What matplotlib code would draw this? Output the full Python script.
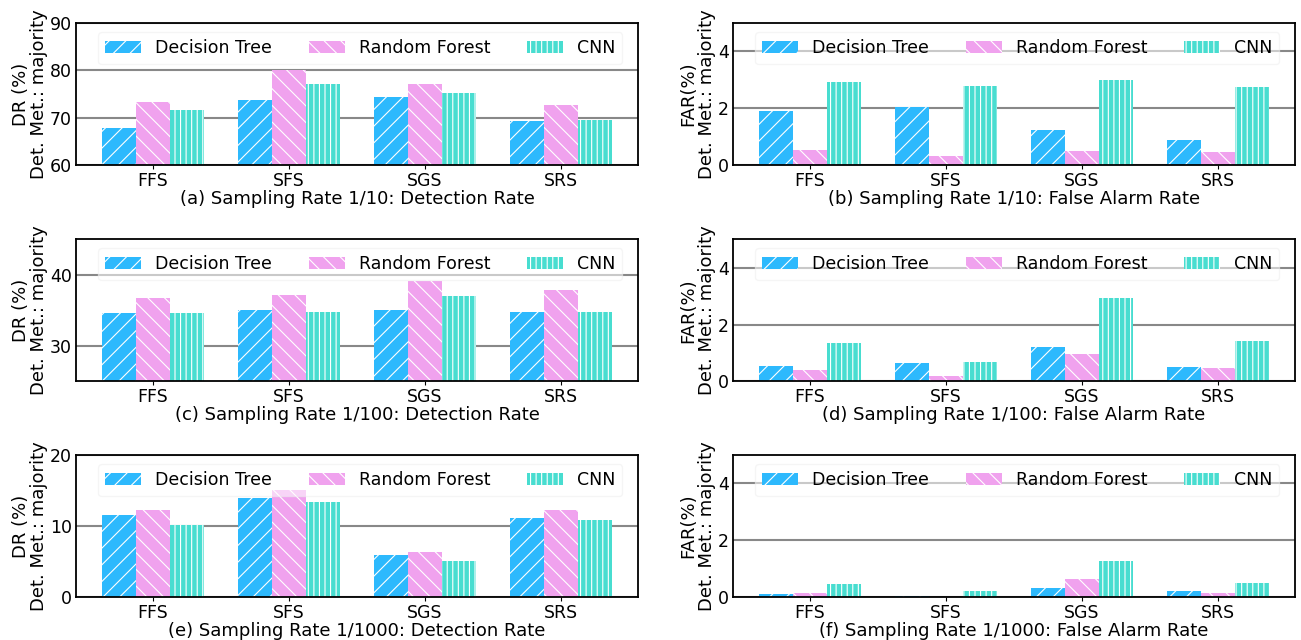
import numpy as np
import matplotlib
matplotlib.use("Agg")
import matplotlib.pyplot as plt

methods = ["FFS", "SFS", "SGS", "SRS"]
models = ["Decision Tree", "Random Forest", "CNN"]

# detection rate / false alarm rate (%) per sampling rate, rows = model
dr_10 = [[67.9, 73.8, 74.4, 69.4],
         [73.4, 80.1, 77.2, 72.7],
         [71.7, 77.2, 75.3, 69.6]]
far_10 = [[1.91, 2.04, 1.24, 0.88],
          [0.53, 0.33, 0.50, 0.46],
          [2.91, 2.80, 3.01, 2.76]]
dr_100 = [[34.6, 35.1, 35.1, 34.8],
          [36.8, 37.1, 39.1, 37.9],
          [34.6, 34.8, 37.0, 34.8]]
far_100 = [[0.54, 0.66, 1.21, 0.50],
           [0.40, 0.20, 0.96, 0.48],
           [1.36, 0.68, 2.93, 1.42]]
dr_1000 = [[11.5, 13.9, 5.9, 11.2],
           [12.2, 15.1, 6.4, 12.2],
           [10.2, 13.4, 5.1, 10.8]]
far_1000 = [[0.12, 0.05, 0.32, 0.20],
            [0.15, 0.01, 0.65, 0.14],
            [0.46, 0.20, 1.27, 0.48]]

colors = ["#2DB9FD", "#F0A2EE", "#48DDD0"]
hatches = ["//", "\\\\", "|||"]

panels = [
    (dr_10, "DR (%)", (60, 90), [60, 70, 80, 90], "(a) Sampling Rate 1/10: Detection Rate"),
    (far_10, "FAR(%)", (0, 5), [0, 2, 4], "(b) Sampling Rate 1/10: False Alarm Rate"),
    (dr_100, "DR (%)", (25, 45), [30, 40], "(c) Sampling Rate 1/100: Detection Rate"),
    (far_100, "FAR(%)", (0, 5), [0, 2, 4], "(d) Sampling Rate 1/100: False Alarm Rate"),
    (dr_1000, "DR (%)", (0, 20), [0, 10, 20], "(e) Sampling Rate 1/1000: Detection Rate"),
    (far_1000, "FAR(%)", (0, 5), [0, 2, 4], "(f) Sampling Rate 1/1000: False Alarm Rate"),
]

plt.rcParams["hatch.linewidth"] = 0.8
fig = plt.figure(figsize=(13.01, 6.4), dpi=100)

lefts = [0.0584, 0.5634]
width = 0.432
bottoms = [0.742, 0.404, 0.067]
height = 0.222

x = np.arange(len(methods))
w = 0.25
for i, (vals, ylab, ylim, yticks, xlab) in enumerate(panels):
    ax = fig.add_axes([lefts[i % 2], bottoms[i // 2], width, height])
    for k in range(3):
        ax.bar(x + (k - 1) * w, vals[k], w, color=colors[k], hatch=hatches[k],
               edgecolor="white", linewidth=0, label=models[k], zorder=2)
    ax.set_ylim(*ylim)
    ax.set_yticks(yticks)
    ax.set_xticks(x)
    ax.set_xticklabels(methods)
    ax.tick_params(axis="x", labelsize=12.5, length=3, pad=2)
    ax.tick_params(axis="y", labelsize=12.5, length=0, pad=3)
    ax.yaxis.grid(True, color="#888888", linewidth=1.5, zorder=0)
    ax.set_axisbelow(True)
    for s in ax.spines.values():
        s.set_linewidth(1.3)
    ax.set_ylabel(ylab + "\nDet. Met.: majority", fontsize=13, linespacing=1.0, labelpad=1.5)
    ax.set_xlabel(xlab, fontsize=13, labelpad=0)
    ax.legend(loc="upper center", bbox_to_anchor=(0.506, 0.936), borderaxespad=0,
              ncol=3, fontsize=12.5, framealpha=0.55, handlelength=2.07,
              handletextpad=0.8, columnspacing=2.13, borderpad=0.4,
              edgecolor="#eeeeee")

fig.savefig("out.png", dpi=100)
